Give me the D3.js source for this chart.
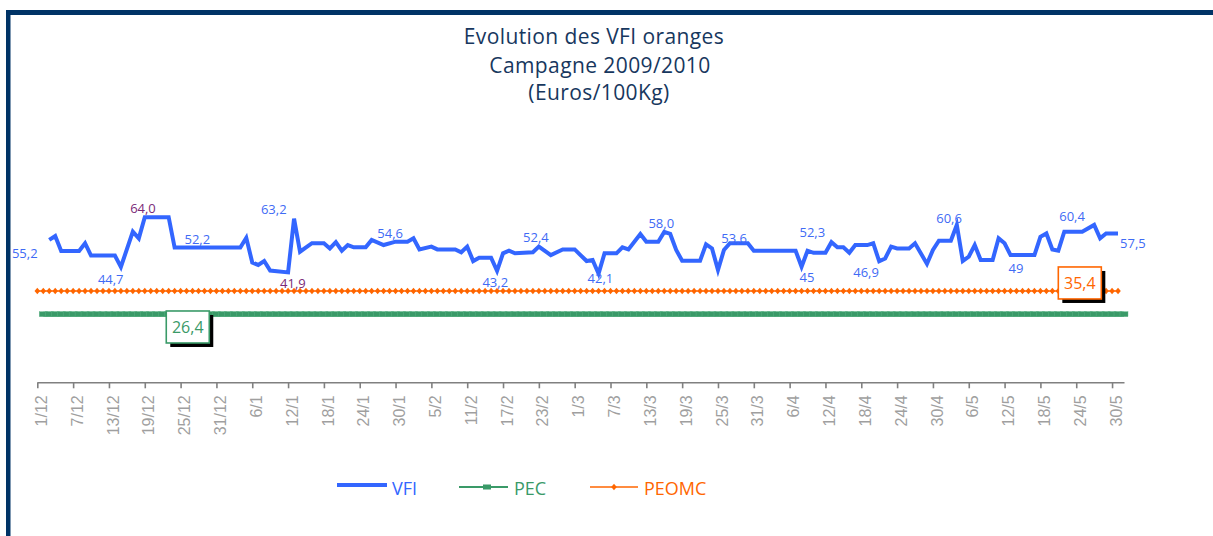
<!DOCTYPE html>
<html>
<head>
<meta charset="utf-8">
<script src="https://cdn.jsdelivr.net/npm/d3@7"></script>
<style>
  body { margin: 0; background: #fff; }
  svg { display: block; }
</style>
</head>
<body>
<div id="chart"></div>
<script>
const width = 1213;
const height = 536;

// x categories: day number counted from 1/12/2009
const tickLabels = ["1/12","7/12","13/12","19/12","25/12","31/12","6/1","12/1","18/1","24/1","30/1",
                    "5/2","11/2","17/2","23/2","1/3","7/3","13/3","19/3","25/3","31/3","6/4",
                    "12/4","18/4","24/4","30/4","6/5","12/5","18/5","24/5","30/5"];

const vfiDays = [2,3,4,7,8,9,13,14,16,17,18,22,23,34,35,36,37,38,39,42,43,44,46,48,49,50,51,52,53,55,
                 56,58,60,62,63,64,66,67,70,71,72,73,74,76,77,78,79,80,83,84,86,88,90,92,93,94,95,97,
                 98,99,101,102,104,105,106,107,108,111,112,113,114,115,116,119,120,127,128,129,130,132,
                 133,134,135,136,137,139,140,141,142,143,144,146,147,149,150,151,153,154,155,156,157,158,
                 160,161,162,163,167,168,169,170,171,172,175,177,178,179,181];
const vfiValues = [55.2,56.7,50.9,50.9,53.9,49.1,49.1,44.7,58.4,55.8,64.0,64.0,52.2,52.2,56.0,46.4,45.5,47.0,43.3,42.6,63.4,50.6,53.9,53.9,51.9,54.3,51.0,53.2,52.3,52.3,
                   55.2,53.2,54.5,54.5,55.8,51.5,52.6,51.5,51.5,50.4,52.6,47.0,48.3,48.3,43.2,50.0,51.0,50.0,50.4,52.6,49.3,51.5,51.5,47.0,47.4,42.1,50.0,50.0,
                   52.3,51.5,57.5,54.5,54.5,58.3,57.5,51.3,47.1,47.1,53.5,51.9,43.5,51.3,53.9,53.9,51.0,51.0,44.8,51.0,50.2,50.2,
                   54.3,52.3,52.3,50.2,53.2,53.2,53.9,46.9,48.0,52.6,51.9,51.9,53.9,45.9,51.3,54.9,54.9,61.0,47.0,48.7,53.2,47.4,
                   47.4,55.8,53.9,49.3,49.3,56.4,57.7,51.5,51.0,58.4,58.4,61.0,55.8,57.7,57.7];

const peomcDays = d3.range(0, 182);
const pecDays = d3.range(1, 183);
const pecValue = 26.4;
const peomcValue = 35.4;

// data labels written on the VFI curve
const labelTexts  = ["55,2","44,7","64,0","52,2","63,2","41,9","54,6","43,2","52,4","42,1","58,0",
                     "53,6","52,3","45","46,9","60,6","49","60,4","57,5"];
const labelDays   = [-2.1,12.3,17.7,26.8,39.6,42.8,59.1,76.7,83.5,94.3,104.5,116.7,129.8,128.9,138.8,152.7,163.9,173.3,183.5];
const labelLevels = [48.2,38.1,65.6,53.6,65.2,36.5,55.9,36.9,54.4,38.5,59.8,54.0,56.3,38.9,40.8,61.8,42.4,62.5,52.1];
const labelExtreme = ["64,0","41,9"];

const blue = "#3366ff", green = "#3a9a68", orange = "#ff6600", navy = "#17375e";

const svg = d3.select("#chart").append("svg")
    .attr("width", width)
    .attr("height", height);

// frame
svg.append("rect").attr("x", 6).attr("y", 10).attr("width", width - 6).attr("height", 5).attr("fill", "#003366");
svg.append("rect").attr("x", 6).attr("y", 10).attr("width", 4.5).attr("height", height - 10).attr("fill", "#003366");

// title
const titleLines = ["Evolution des VFI oranges", "Campagne 2009/2010", "(Euros/100Kg)"];
const titleX = [594, 600, 599];
const titleY = [44, 73, 100];
svg.selectAll(".title").data(titleLines).enter().append("text")
    .attr("class", "title")
    .attr("x", (d, i) => titleX[i])
    .attr("y", (d, i) => titleY[i])
    .attr("text-anchor", "middle")
    .style("font-family", "'Open Sans', sans-serif")
    .style("font-size", "21px")
    .style("letter-spacing", "0.4px")
    .style("fill", navy)
    .text(d => d);

const xScale = d3.scaleLinear().domain([0, 182]).range([37.3, 1124]);
const yScale = d3.scaleLinear().domain([0, 70]).range([382.3, 382.3 - 70 * 2.58]);

// x axis
const xAxis = d3.axisBottom(xScale)
    .tickValues(d3.range(0, 181, 6))
    .tickFormat((d, i) => tickLabels[i])
    .tickSize(6)
    .tickSizeOuter(0);
const ax = svg.append("g")
    .attr("transform", `translate(0,${yScale(0)})`)
    .call(xAxis);
ax.select(".domain").attr("stroke", "#808080").attr("stroke-width", 1.6);
ax.selectAll(".tick line").attr("stroke", "#808080").attr("stroke-width", 1.6);
ax.selectAll(".tick text")
    .attr("transform", "rotate(-90)")
    .attr("text-anchor", "end")
    .attr("x", -13)
    .attr("y", 3.5)
    .attr("dy", "0.35em")
    .style("font-family", "'Liberation Sans', Arial, sans-serif")
    .style("font-size", "16px")
    .style("fill", "#9f9f9f");

// PEC line with square markers
const refLine = v => d3.line().x(d => xScale(d)).y(() => yScale(v));
svg.append("path")
    .datum(pecDays)
    .attr("d", refLine(pecValue))
    .attr("fill", "none")
    .attr("stroke", green)
    .attr("stroke-width", 5);
svg.append("g").selectAll("rect")
    .data(pecDays).enter().append("rect")
    .attr("x", d => xScale(d) - 4)
    .attr("y", yScale(pecValue) - 2.5)
    .attr("width", 8)
    .attr("height", 5)
    .attr("fill", green)
    .attr("stroke", "#5fb489")
    .attr("stroke-width", 0.4);

// PEOMC line with diamond markers
svg.append("path")
    .datum(peomcDays)
    .attr("d", refLine(peomcValue))
    .attr("fill", "none")
    .attr("stroke", orange)
    .attr("stroke-width", 1.5);
const diamond = "M0,-3.3L2.8,0L0,3.3L-2.8,0Z";
svg.append("g").selectAll("path")
    .data(peomcDays).enter().append("path")
    .attr("d", diamond)
    .attr("transform", d => `translate(${xScale(d)},${yScale(peomcValue)})`)
    .attr("fill", orange);

// VFI line
const vfi = vfiDays.map((d, i) => ({ day: d, value: vfiValues[i] }));
svg.append("path")
    .datum(vfi)
    .attr("d", d3.line().x(d => xScale(d.day)).y(d => yScale(d.value)))
    .attr("fill", "none")
    .attr("stroke", blue)
    .attr("stroke-width", 4)
    .attr("stroke-linejoin", "miter");

// data labels on VFI
svg.append("g").selectAll("text")
    .data(labelTexts).enter().append("text")
    .attr("x", (d, i) => xScale(labelDays[i]))
    .attr("y", (d, i) => yScale(labelLevels[i]))
    .attr("text-anchor", "middle")
    .style("font-family", "'Open Sans', sans-serif")
    .style("font-size", "13px")
    .style("fill", d => labelExtreme.includes(d) ? "#7a2a78" : "#3f6bf5")
    .text(d => d);

// value boxes for PEC and PEOMC
function valueBox(day, value, dyc, color, txt) {
    const cx = xScale(day), cy = yScale(value) + dyc;
    const w = 43, h = 32;
    svg.append("rect").attr("x", cx - w / 2 + 4).attr("y", cy - h / 2 + 4)
        .attr("width", w).attr("height", h).attr("fill", "#000");
    svg.append("rect").attr("x", cx - w / 2).attr("y", cy - h / 2)
        .attr("width", w).attr("height", h)
        .attr("fill", "#fff").attr("stroke", color).attr("stroke-width", 1.6);
    svg.append("text").attr("x", cx).attr("y", cy + 6)
        .attr("text-anchor", "middle")
        .style("font-family", "'Open Sans', sans-serif")
        .style("font-size", "16px")
        .style("fill", color)
        .text(txt);
}
valueBox(25.2, pecValue, 12.8, green, "26,4");
valueBox(174.6, peomcValue, -8, orange, "35,4");

// legend
const legend = svg.append("g");
legend.append("line").attr("x1", 337).attr("x2", 387).attr("y1", 485).attr("y2", 485)
    .attr("stroke", blue).attr("stroke-width", 4);
legend.append("line").attr("x1", 459).attr("x2", 508).attr("y1", 487).attr("y2", 487)
    .attr("stroke", green).attr("stroke-width", 2);
legend.append("rect").attr("x", 483).attr("y", 484.5).attr("width", 8).attr("height", 5).attr("fill", green);
legend.append("line").attr("x1", 590).attr("x2", 638).attr("y1", 487).attr("y2", 487)
    .attr("stroke", orange).attr("stroke-width", 1.5);
legend.append("path").attr("d", diamond).attr("transform", "translate(614,487)").attr("fill", orange);
const legendNames = ["VFI", "PEC", "PEOMC"];
const legendX = [392, 514, 644];
const legendColors = [blue, green, orange];
legend.selectAll("text").data(legendNames).enter().append("text")
    .attr("x", (d, i) => legendX[i])
    .attr("y", 495)
    .style("font-family", "'Open Sans', sans-serif")
    .style("font-size", "18px")
    .style("fill", (d, i) => legendColors[i])
    .text(d => d);
</script>
</body>
</html>
